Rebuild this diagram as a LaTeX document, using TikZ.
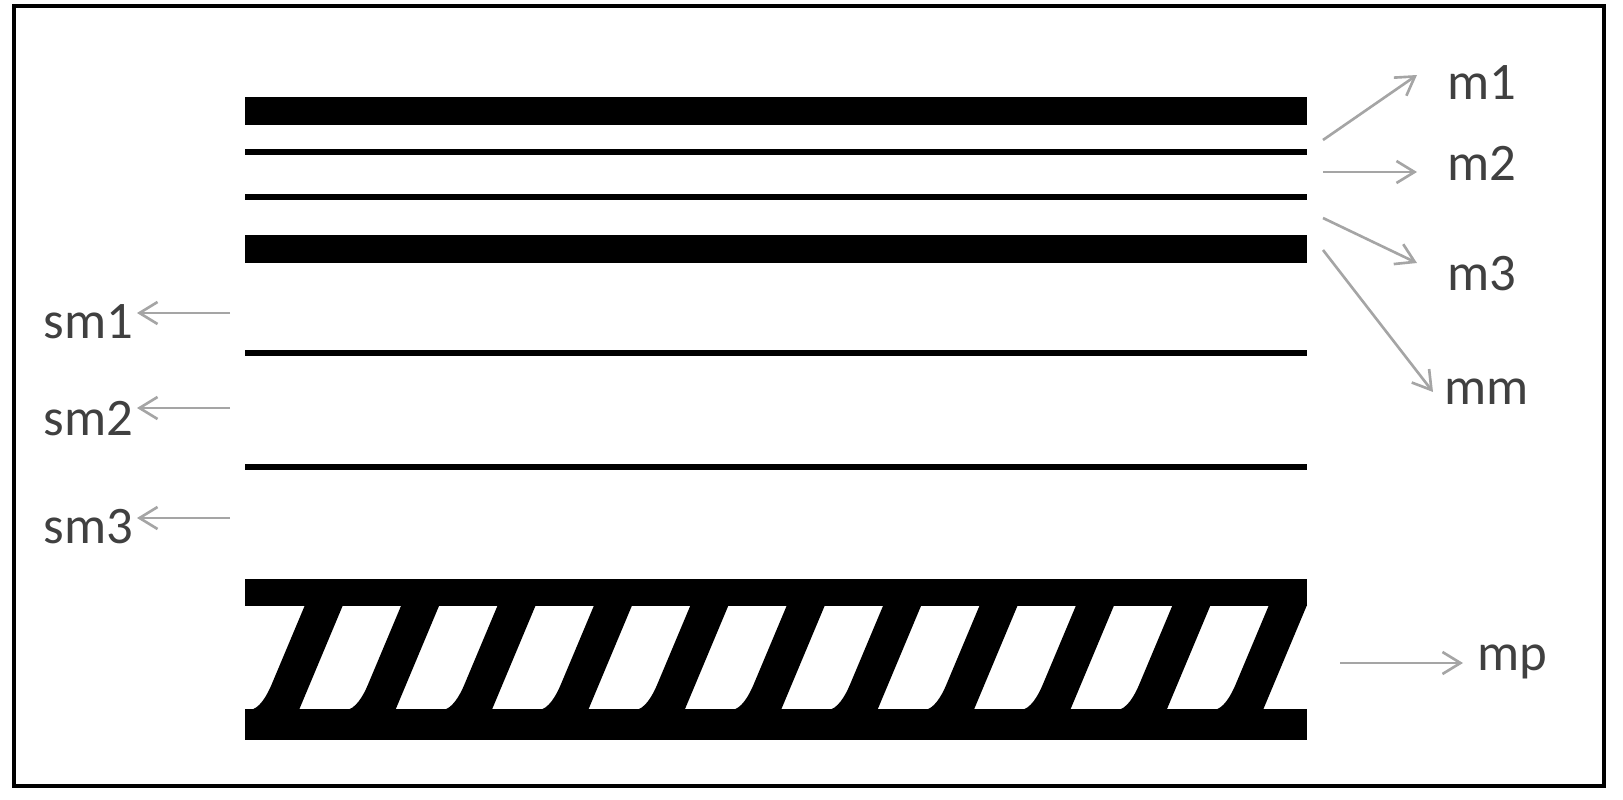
\documentclass[tikz,border=0pt]{standalone}
\usepackage{fontspec}
\setmainfont{Carlito}
\usepackage{xcolor}
\usepackage{tikz}
\usetikzlibrary{arrows.meta,calc,positioning}

\definecolor{pointergray}{RGB}{165,165,165}
\definecolor{labelgray}{RGB}{64,64,64}
\tikzset{
	frame/.style={draw=black, line width=1.1pt},
	thicklayer/.style={draw=black, line width=0.28cm},
	thinlayer/.style={draw=black, line width=1.6pt},
	pointer/.style={draw=pointergray, line width=0.75pt, -{Straight Barb[length=1.8mm,width=2.2mm]}},
	layerlabel/.style={text=labelgray, inner sep=0pt, anchor=base west, font=\fontsize{15pt}{18pt}\selectfont}
}

\begin{document}
\begin{tikzpicture}[x=0.01cm,y=-0.01cm]
				\useasboundingbox (0,0) rectangle (1623,800);
				\draw[frame] (14,6) rectangle (1604,786);
				\draw[thicklayer] (245,111) to (1307,111); %m1
				\draw[thinlayer] (245,152) to (1307,152); %m2
				\draw[thinlayer] (245,197) to (1307,197);
				\draw[thicklayer] (245,249) to (1307,249); %m3
				\draw[thinlayer] (245,353) to (1307,353); %sm
				\draw[thinlayer] (245,467) to (1307,467);
				\fill (245,579) rectangle (1307,606); %mp
				\fill (245,709) rectangle (1307,740);
				\fill (343,605) -- (299,710) -- (249,710) .. controls (259,710) and (267.2,695) .. (271.4,685) -- (305,605) -- cycle; %1
				\fill (439.4,605) -- (395.4,710) -- (345.4,710) .. controls (355.4,710) and (363.6,695) .. (367.8,685) -- (401.4,605) -- cycle; %2
				\fill (535.8,605) -- (491.8,710) -- (441.8,710) .. controls (451.8,710) and (460,695) .. (464.2,685) -- (497.8,605) -- cycle; %3
				\fill (632.2,605) -- (588.2,710) -- (538.2,710) .. controls (548.2,710) and (556.4,695) .. (560.6,685) -- (594.2,605) -- cycle; %4
				\fill (728.6,605) -- (684.6,710) -- (634.6,710) .. controls (644.6,710) and (652.8,695) .. (657,685) -- (690.6,605) -- cycle; %5
				\fill (825,605) -- (781,710) -- (731,710) .. controls (741,710) and (749.2,695) .. (753.4,685) -- (787,605) -- cycle; %6
				\fill (921.4,605) -- (877.4,710) -- (827.4,710) .. controls (837.4,710) and (845.6,695) .. (849.8,685) -- (883.4,605) -- cycle; %7
				\fill (1017.8,605) -- (973.8,710) -- (923.8,710) .. controls (933.8,710) and (942,695) .. (946.2,685) -- (979.8,605) -- cycle; %8
				\fill (1114.2,605) -- (1070.2,710) -- (1020.2,710) .. controls (1030.2,710) and (1038.4,695) .. (1042.6,685) -- (1076.2,605) -- cycle; %9
				\fill (1210.6,605) -- (1166.6,710) -- (1116.6,710) .. controls (1126.6,710) and (1134.8,695) .. (1139,685) -- (1172.6,605) -- cycle; %10
				\fill (1307,605) -- (1263,710) -- (1213,710) .. controls (1223,710) and (1231.2,695) .. (1235.4,685) -- (1269,605) -- cycle; %11
				\node[layerlabel] (m1) at (1447,100) {m1};
				\node[layerlabel] (m2) at (1447,180) {m2};
				\node[layerlabel] (m3) at (1447,290) {m3};
				\node[layerlabel] (mm) at (1444,404) {mm};
				\node[layerlabel] (sm1) at (43,338) {sm1};
				\node[layerlabel] (sm2) at (43,435) {sm2};
				\node[layerlabel] (sm3) at (43,543) {sm3};
				\node[layerlabel] (mp) at (1477,670) {mp};
				\coordinate (m1s) at (1323,140);
				\coordinate (m1e) at (1417,75);
				\coordinate (m2s) at (1323,172);
				\coordinate (m2e) at (1417,172);
				\coordinate (m3s) at (1323,218);
				\coordinate (m3e) at (1417,263);
				\coordinate (mms) at (1323,250);
				\coordinate (mme) at (1433,392);
				\coordinate (sm1s) at (230,313);
				\coordinate (sm1e) at (137,313);
				\coordinate (sm2s) at (230,408);
				\coordinate (sm2e) at (137,408);
				\coordinate (sm3s) at (230,518);
				\coordinate (sm3e) at (137,518);
				\coordinate (mps) at (1340,663);
				\coordinate (mpe) at (1463,663);
				\draw[pointer] (m1s) to (m1e);
				\draw[pointer] (m2s) to (m2e);
				\draw[pointer] (m3s) to (m3e);
				\draw[pointer] (mms) to (mme);
				\draw[pointer] (sm1s) to (sm1e);
				\draw[pointer] (sm2s) to (sm2e);
				\draw[pointer] (sm3s) to (sm3e);
				\draw[pointer] (mps) to (mpe);
	\end{tikzpicture}
\end{document}
